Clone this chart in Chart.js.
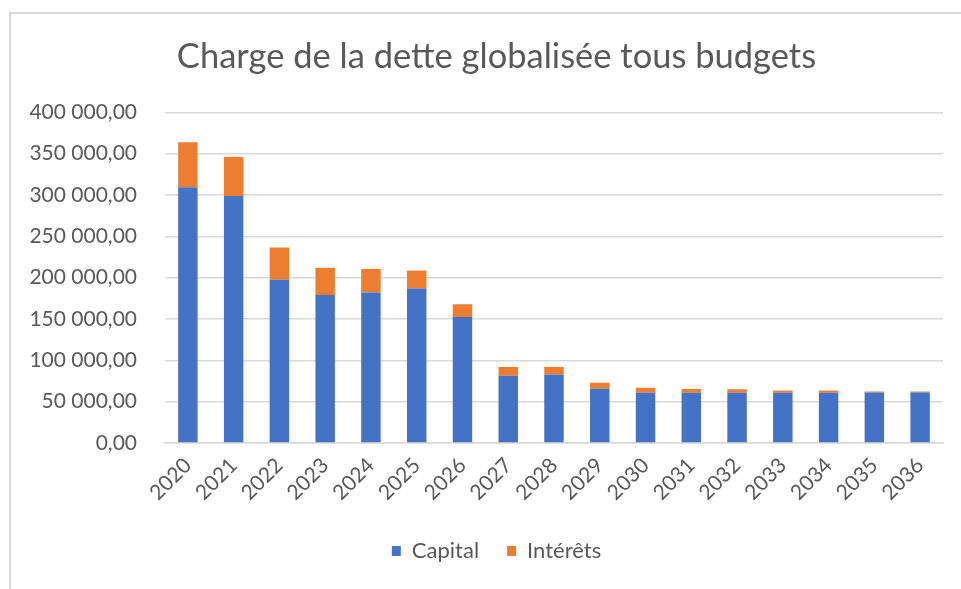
<!DOCTYPE html>
<html lang="fr">
<head>
<meta charset="utf-8">
<title>Charge de la dette globalisée tous budgets</title>
<script src="https://cdn.jsdelivr.net/npm/chart.js@4.4.1/dist/chart.umd.min.js"></script>
<style>
  html, body { margin: 0; padding: 0; background: #fff; overflow: hidden; }
  body { width: 961px; height: 589px; position: relative; }
  .frame {
    position: absolute; left: 9px; top: 12px; width: 1000px; height: 700px;
    border-top: 2px solid #d9d9d9; border-left: 2px solid #d9d9d9;
  }
  .wrap { position: absolute; left: 0; top: 0; width: 993px; height: 589px; }
</style>
</head>
<body>
<div class="frame"></div>
<div class="wrap"><canvas id="chart"></canvas></div>
<script>
const years = ['2020','2021','2022','2023','2024','2025','2026','2027','2028',
               '2029','2030','2031','2032','2033','2034','2035','2036'];
const capital  = [309500, 299000, 197500, 179000, 182000, 187000, 152500, 81300, 83000,
                  65500, 60700, 60700, 60700, 60700, 60700, 61000, 61000];
const interets = [54500, 47000, 39000, 33000, 28400, 21700, 15500, 10600, 8900,
                  7300, 6000, 4500, 4400, 2900, 2800, 1300, 1200];

const grey = '#595959';
const fontFam = 'Lato, "Open Sans", sans-serif';

function frNumber(v){
  const parts = Number(v).toFixed(2).split('.');
  return parts[0].replace(/\B(?=(\d{3})+(?!\d))/g, ' ') + ',' + parts[1];
}

const ctx = document.getElementById('chart');

new Chart(ctx, {
  type: 'bar',
  data: {
    labels: years,
    datasets: [
      { label: 'Capital',  data: capital,  backgroundColor: '#4472C4',
        barPercentage: 0.425, categoryPercentage: 1 },
      { label: 'Intérêts', data: interets, backgroundColor: '#ED7D31',
        barPercentage: 0.425, categoryPercentage: 1 }
    ]
  },
  options: {
    responsive: true,
    maintainAspectRatio: false,
    animation: false,
    layout: { padding: { left: 0, right: 0, top: 0, bottom: 17 } },
    plugins: {
      title: {
        display: true,
        text: 'Charge de la dette globalisée tous budgets',
        color: grey,
        font: { family: fontFam, size: 34.5, weight: 'normal' },
        padding: { top: 36, bottom: 35 }
      },
      legend: {
        position: 'bottom',
        labels: {
          color: grey,
          font: { family: fontFam, size: 22 },
          boxWidth: 9,
          boxHeight: 10,
          padding: 28
        }
      },
      tooltip: { enabled: false }
    },
    scales: {
      x: {
        stacked: true,
        grid: { display: false, drawTicks: false },
        border: { display: true, color: '#d9d9d9', width: 1.5 },
        ticks: {
          color: grey,
          font: { family: fontFam, size: 21 },
          minRotation: 45,
          maxRotation: 45,
          padding: 10
        },
        afterFit(scale){ scale.height = 69; }
      },
      y: {
        stacked: true,
        min: 0,
        max: 400000,
        grid: { color: '#d9d9d9', lineWidth: 1.5, drawTicks: false },
        border: { display: false },
        ticks: {
          stepSize: 50000,
          color: grey,
          font: { family: fontFam, size: 21 },
          padding: 28,
          callback: v => frNumber(v)
        },
        afterFit(scale){ scale.width = 165; }
      },
      // empty right-hand margin so title and legend centre like the original
      yRight: {
        position: 'right',
        min: 0,
        max: 400000,
        grid: { display: false, drawTicks: false },
        border: { display: false },
        ticks: { display: false },
        afterFit(scale){ scale.width = 50; }
      }
    }
  }
});
</script>
</body>
</html>
